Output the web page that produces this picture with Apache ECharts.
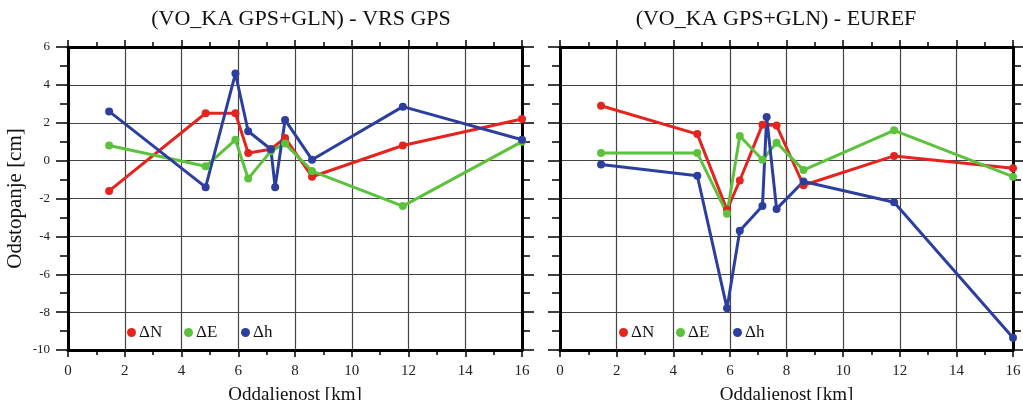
<!DOCTYPE html>
<html lang="en">
<head>
    <meta charset="UTF-8">
    <script src="https://cdn.jsdelivr.net/npm/echarts@6/dist/echarts.min.js"></script>
    <title>odstopanja</title>
</head>
<body style="margin:0;background:#fff;">
    <div id="chart" style="width: 1023px;height: 400px;"></div>
    <script>
        // oddaljenost [km] za vsako točko
        var dist = [1.45, 4.85, 5.9, 6.35, 7.15, 7.3, 7.65, 8.6, 11.8, 16];
        // (VO_KA GPS+GLN) - VRS GPS
        var dN_vrs = [-1.6, 2.5, 2.5, 0.4, 0.6, null, 1.2, -0.85, 0.8, 2.2];
        var dE_vrs = [0.8, -0.3, 1.1, -0.95, 0.5, null, 0.9, -0.55, -2.4, 1.0];
        var dh_vrs = [2.6, -1.4, 4.6, 1.55, 0.6, -1.4, 2.15, 0.05, 2.85, 1.1];
        // (VO_KA GPS+GLN) - EUREF
        var dN_euref = [2.9, 1.4, -2.6, -1.05, 1.9, null, 1.85, -1.3, 0.25, -0.4];
        var dE_euref = [0.4, 0.4, -2.8, 1.3, 0.05, null, 0.95, -0.5, 1.6, -0.85];
        var dh_euref = [-0.2, -0.8, -7.8, -3.7, -2.4, 2.3, -2.55, -1.1, -2.2, -9.35];

        var names = ['ΔN', 'ΔE', 'Δh'];
        var colors = ['#e52420', '#5cc23c', '#2c3f9e'];
        var titles = ['(VO_KA GPS+GLN) - VRS GPS', '(VO_KA GPS+GLN) - EUREF'];
        var xTicks = { min: 0, max: 16, interval: 2 };
        var yTicks = { min: -10, max: 6, interval: 2 };

        var font = 'Liberation Serif';

        function pairs(arr) {
            var out = [];
            for (var i = 0; i < dist.length; i++) {
                if (arr[i] !== null) out.push([dist[i], arr[i]]);
            }
            return out;
        }

        function xAxis(gridIndex, pos, labels) {
            return {
                type: 'value',
                gridIndex: gridIndex,
                position: pos,
                min: xTicks.min,
                max: xTicks.max,
                interval: xTicks.interval,
                name: labels ? 'Oddaljenost [km]' : '',
                nameLocation: 'middle',
                nameGap: 36,
                nameTextStyle: { fontFamily: font, fontSize: 19, color: '#111' },
                axisLine: { onZero: false, lineStyle: { color: '#000', width: 3 } },
                axisTick: { length: 7, lineStyle: { color: '#000', width: 1.5 } },
                minorTick: { show: true, splitNumber: 2, length: 5, lineStyle: { color: '#000', width: 1.5 } },
                axisLabel: { show: labels, margin: 14, fontFamily: font, fontSize: 15, color: '#222' },
                splitLine: { show: labels, lineStyle: { color: '#444', width: 1.2 } }
            };
        }

        function yAxis(gridIndex, pos, labels, grid) {
            return {
                type: 'value',
                gridIndex: gridIndex,
                position: pos,
                min: yTicks.min,
                max: yTicks.max,
                interval: yTicks.interval,
                name: labels ? 'Odstopanje [cm]' : '',
                nameLocation: 'middle',
                nameGap: 42,
                nameTextStyle: { fontFamily: font, fontSize: 21, color: '#111' },
                axisLine: { onZero: false, lineStyle: { color: '#000', width: 3 } },
                axisTick: { length: 12, lineStyle: { color: '#000', width: 1.5 } },
                minorTick: { show: true, splitNumber: 2, length: 8, lineStyle: { color: '#000', width: 1.5 } },
                axisLabel: { show: labels, margin: 18, fontFamily: font, fontSize: 13, color: '#222' },
                splitLine: { show: grid, lineStyle: { color: '#444', width: 1.2 } }
            };
        }

        function lineSeries(name, color, data, axisIndex) {
            return {
                name: name,
                type: 'line',
                xAxisIndex: axisIndex,
                yAxisIndex: axisIndex,
                data: pairs(data),
                symbol: 'circle',
                symbolSize: 8,
                showSymbol: true,
                lineStyle: { color: color, width: 3 },
                itemStyle: { color: color },
                z: 3
            };
        }

        // one legend per item so the entries sit at even spacing
        function legends(plotLeft) {
            return names.map(function (n, i) {
                return {
                    data: [n],
                    left: plotLeft + 54 + i * 57,
                    top: 319,
                    icon: 'circle',
                    itemWidth: 9,
                    itemHeight: 9,
                    textStyle: { fontFamily: font, fontSize: 17, color: '#111', padding: [0, 0, 0, -2] }
                };
            });
        }

        var chart = echarts.init(document.getElementById('chart'), null, { renderer: 'canvas' });
        chart.setOption({
            animation: false,
            backgroundColor: '#fff',
            color: colors,
            title: [
                { text: titles[0], left: 296, top: 3, textAlign: 'center',
                  textStyle: { fontFamily: font, fontSize: 22, fontWeight: 'normal', color: '#111' } },
                { text: titles[1], left: 771, top: 3, textAlign: 'center',
                  textStyle: { fontFamily: font, fontSize: 22, fontWeight: 'normal', color: '#111' } }
            ],
            legend: legends(68).concat(legends(560)),
            grid: [
                { left: 68, right: 501, top: 47, bottom: 50, outerBoundsMode: 'none' },
                { left: 560, right: 10, top: 47, bottom: 50, outerBoundsMode: 'none' }
            ],
            xAxis: [
                xAxis(0, 'bottom', true),
                xAxis(0, 'top', false),
                xAxis(1, 'bottom', true),
                xAxis(1, 'top', false)
            ],
            yAxis: [
                yAxis(0, 'left', true, true),
                yAxis(0, 'right', false, false),
                yAxis(1, 'left', false, true),
                yAxis(1, 'right', false, false)
            ],
            series: [
                lineSeries(names[0], colors[0], dN_vrs, 0),
                lineSeries(names[1], colors[1], dE_vrs, 0),
                lineSeries(names[2], colors[2], dh_vrs, 0),
                lineSeries(names[0], colors[0], dN_euref, 2),
                lineSeries(names[1], colors[1], dE_euref, 2),
                lineSeries(names[2], colors[2], dh_euref, 2)
            ]
        });
    </script>
</body>
</html>
